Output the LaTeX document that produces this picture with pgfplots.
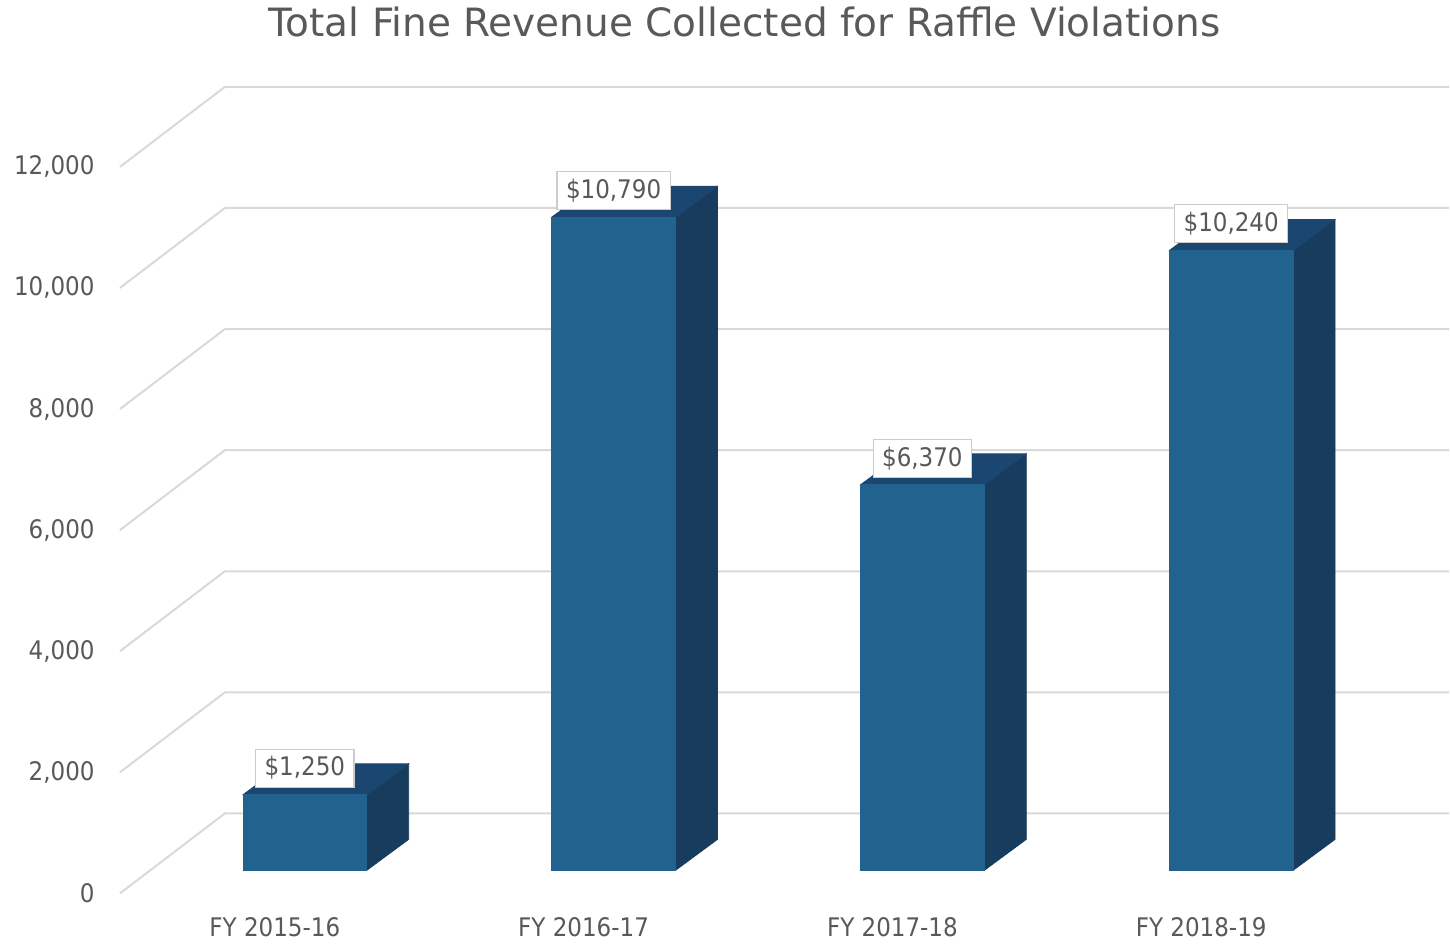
\documentclass[border=0pt]{standalone}
\usepackage{fontspec}
\setmainfont{DejaVu Sans Condensed}
\newfontfamily\titlefont{DejaVu Sans}
\usepackage{pgfplots}
\usepackage{pgfplotstable}
\pgfplotsset{compat=1.18}
\definecolor{frontcol}{HTML}{22628F}
\definecolor{topcol}{HTML}{1B4670}
\definecolor{sidecol}{HTML}{183C5E}
\definecolor{gridcol}{HTML}{D9D9D9}
\definecolor{textcol}{HTML}{595959}
\definecolor{boxcol}{HTML}{CCCCCC}

\pgfplotstableread{
idx v lab
0 1250 {\$1,250}
1 10790 {\$10,790}
2 6370 {\$6,370}
3 10240 {\$10,240}
}\datatable

% geometry (axis units)
\def\fx{0.0971}  % front face x offset (depth)
\def\fy{379.6}   % front face y offset (depth)
\def\hw{0.2006}  % half bar width
\def\bx{0.1359}  % bar depth x
\def\by{511.7}   % bar depth y

\begin{document}
\begin{tikzpicture}
\begin{axis}[
  scale only axis, width=725pt, height=472pt,
  xmin=-0.88997, xmax=3.80259, ymin=-825.3, ymax=14756,
  scaled y ticks=false, scaled x ticks=false,
  axis line style={draw=none}, tick style={draw=none},
  xtick={0,1,2,3},
  xticklabels={FY 2015-16, FY 2016-17, FY 2017-18, FY 2018-19},
  ytick={0,2000,4000,6000,8000,10000,12000},
  yticklabels={0,{2,000},{4,000},{6,000},{8,000},{10,000},{12,000}},
  ticklabel style={font=\fontsize{12.8}{15}\selectfont, text=textcol, inner sep=0pt},
  yticklabel style={anchor=east, xshift=47.5pt},
  xticklabel style={anchor=center, yshift=8pt},
  title={Total Fine Revenue Collected for Raffle Violations},
  title style={at={(0.5138,1)}, anchor=base, yshift=-24.5pt,
    font=\titlefont\fontsize{19.5}{22}\selectfont, text=textcol, inner sep=0pt},
  clip=false,
]
% gridlines (front diagonal + back wall)
\pgfplotsinvokeforeach{0,2000,4000,6000,8000,10000,12000}{
  \pgfmathsetmacro\gb{#1+1320.5}
  \edef\doplot{\noexpand\addplot[gridcol, line width=1pt, mark=none] coordinates {(-0.5016,#1) (-0.1618,\gb) (3.8025,\gb)};}
  \doplot
}
% 3D bars
\pgfplotsinvokeforeach{0,1,2,3}{
  \pgfplotstablegetelem{#1}{v}\of\datatable
  \let\val\pgfplotsretval
  \pgfmathsetmacro\xa{#1+\fx-\hw}
  \pgfmathsetmacro\xb{#1+\fx+\hw}
  \pgfmathsetmacro\xc{\xa+\bx}
  \pgfmathsetmacro\xd{\xb+\bx}
  \pgfmathsetmacro\ya{\fy}
  \pgfmathsetmacro\yb{\fy+\val}
  \pgfmathsetmacro\yc{\fy+\by}
  \pgfmathsetmacro\yd{\fy+\by+\val}
  \edef\doplots{%
    \noexpand\addplot[draw=sidecol, fill=sidecol, line width=0.3pt, mark=none] coordinates {(\xb,\ya) (\xd,\yc) (\xd,\yd) (\xb,\yb)} -- cycle;
    \noexpand\addplot[draw=topcol, fill=topcol, line width=0.3pt, mark=none] coordinates {(\xa,\yb) (\xb,\yb) (\xd,\yd) (\xc,\yd)} -- cycle;
    \noexpand\addplot[draw=frontcol, fill=frontcol, line width=0.3pt, mark=none] coordinates {(\xa,\ya) (\xb,\ya) (\xb,\yb) (\xa,\yb)} -- cycle;
  }%
  \doplots
}
% value labels
\addplot[draw=none, mark=none, nodes near coords, point meta=explicit symbolic,
  every node near coord/.append style={anchor=south, yshift=3.5pt, fill=white,
    draw=boxcol, line width=0.6pt, inner xsep=4.5pt, inner ysep=0pt, minimum height=19pt,
    font=\fontsize{12.8}{15}\selectfont, text=textcol}]
  table[x expr=\thisrow{idx}+0.0971, y expr=\thisrow{v}+379.6, meta=lab]{\datatable};
\end{axis}
\end{tikzpicture}
\end{document}
